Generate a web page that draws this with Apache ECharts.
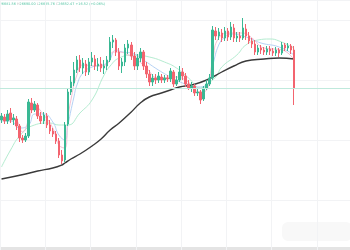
<!DOCTYPE html>
<html><head><meta charset="utf-8">
<script src="https://cdn.jsdelivr.net/npm/echarts@6/dist/echarts.min.js"></script>
<style>html,body{margin:0;padding:0;background:#fff}#c{width:350px;height:250px}</style>
</head><body><div id="c"></div>
<script>
// OHLC candles: [open, close, low, high]
const candles = [
[26500,26520,26485,26535],[26515,26495,26480,26530],[26495,26530,26480,26550],[26535,26500,26485,26560],
[26500,26510,26475,26530],[26505,26470,26450,26520],[26470,26410,26390,26480],[26410,26400,26385,26425],
[26400,26420,26390,26435],[26420,26590,26410,26605],[26585,26550,26535,26610],[26550,26580,26540,26595],
[26575,26520,26505,26585],[26520,26495,26480,26540],[26495,26525,26480,26540],[26520,26475,26460,26535],
[26475,26445,26430,26500],[26445,26430,26415,26460],[26430,26395,26380,26445],[26395,26325,26310,26410],
[26325,26295,26280,26350],[26300,26475,26290,26490],[26480,26640,26470,26660],[26640,26690,26625,26720],
[26685,26750,26670,26790],[26750,26800,26735,26820],[26800,26760,26740,26825],[26760,26785,26730,26810],
[26780,26740,26720,26800],[26740,26790,26725,26810],[26790,26810,26770,26840],[26805,26770,26750,26825],
[26770,26780,26745,26810],[26780,26760,26740,26815],[26760,26770,26730,26800],[26770,26800,26750,26820],
[26800,26890,26790,26915],[26890,26900,26860,26925],[26900,26840,26820,26910],[26840,26770,26750,26860],
[26770,26790,26735,26810],[26790,26860,26770,26880],[26860,26880,26830,26900],[26875,26820,26800,26890],
[26820,26770,26750,26840],[26770,26810,26750,26830],[26810,26840,26790,26860],[26840,26770,26750,26850],
[26770,26730,26710,26790],[26730,26690,26670,26750],[26690,26710,26670,26730],[26710,26700,26680,26730],
[26700,26720,26685,26740],[26715,26700,26685,26730],[26700,26710,26685,26725],[26710,26705,26690,26725],
[26705,26745,26690,26760],[26740,26680,26665,26750],[26680,26700,26670,26720],[26700,26740,26690,26770],
[26740,26720,26700,26760],[26720,26680,26665,26735],[26680,26660,26650,26700],[26660,26670,26640,26690],
[26670,26635,26620,26680],[26635,26640,26620,26660],[26640,26600,26580,26650],[26605,26660,26595,26670],
[26660,26680,26650,26700],[26680,26710,26670,26730],[26710,26950,26700,26970],[26945,26920,26900,26965],
[26920,26940,26900,26960],[26935,26910,26890,26955],[26910,26945,26895,26965],[26945,26915,26895,26960],
[26915,26965,26900,26990],[26960,26910,26890,26980],[26910,26920,26890,26940],[26920,26910,26890,26940],
[26910,26960,26900,27010],[26955,26920,26900,26980],[26920,26895,26880,26940],[26895,26880,26860,26910],
[26880,26840,26825,26900],[26840,26860,26825,26875],[26860,26850,26830,26875],[26850,26840,26825,26865],
[26840,26855,26825,26870],[26855,26845,26825,26870],[26845,26835,26820,26860],[26835,26850,26820,26865],
[26850,26835,26815,26860],[26835,26875,26825,26890],[26875,26860,26845,26885],[26860,26870,26845,26885],
[26870,26850,26830,26880],[26850,26660,26575,26870]
];
// moving averages: [candle index, value]
const maLong = [[0,26205],[8,26230],[12,26245],[17,26260],[20,26275],[21,26285],[23,26305],[26,26330],[30,26370],[33,26405],[36,26450],[39,26485],[43,26540],[46,26585],[49,26615],[53,26635],[56,26650],[59,26665],[63,26675],[68,26700],[73,26740],[77,26770],[81,26795],[87,26805],[92,26810],[97,26805]];
const maMint = [[0,26265],[3,26350],[6,26420],[10,26470],[16,26485],[19,26475],[22,26475],[26,26535],[30,26600],[34,26725],[36,26770],[39,26810],[44,26825],[49,26815],[54,26790],[58,26760],[62,26710],[66,26660],[68,26680],[71,26715],[73,26765],[78,26825],[81,26875],[85,26900],[89,26905],[92,26895],[97,26860]];
const maBlue = [[0,26495],[3,26495],[6,26460],[9,26475],[11,26530],[14,26530],[17,26490],[19,26425],[21,26400],[22,26475],[24,26615],[25,26675],[27,26735],[30,26765],[35,26785],[38,26850],[40,26840],[43,26835],[47,26800],[52,26750],[56,26715],[60,26685],[65,26665],[68,26675],[70,26775],[72,26875],[74,26915],[76,26930],[81,26915],[86,26885],[92,26865],[97,26825]];
const maPink = [[0,26510],[4,26510],[7,26440],[9,26500],[11,26570],[14,26525],[17,26460],[19,26375],[21,26360],[22,26500],[23,26600],[25,26725],[27,26775],[32,26770],[35,26780],[37,26840],[39,26840],[42,26825],[45,26800],[48,26760],[52,26710],[57,26715],[61,26700],[66,26640],[68,26650],[70,26800],[72,26910],[76,26935],[80,26935],[83,26910],[87,26860],[93,26850],[97,26800]];
const lastPrice = 26660;
const slotCount = 116;
const categories = Array.from({length: slotCount}, (_, i) => String(i));
const legendText = ['O','26681.56','H','26690.00','L','26635.76','C','26652.47','+16.52 (+0.06%)'];

const chart = echarts.init(document.getElementById('c'), null, {renderer:'canvas'});
const lineS = (data, color, w) => ({type:'line', data, smooth:true, showSymbol:false, symbol:'none', silent:true,
  lineStyle:{color, width:w}, z:3});
chart.setOption({
  animation:false,
  backgroundColor:'#ffffff',
  grid:{left:0,right:0,top:0,bottom:0},
  xAxis:{type:'category', data:categories, boundaryGap:true,
    axisLine:{show:false}, axisTick:{show:false}, axisLabel:{show:false},
    splitLine:{show:true, interval:14, lineStyle:{color:'#f2f3f5', width:1}}},
  yAxis:{type:'value', min:25850, max:27100, scale:true,
    axisLine:{show:false}, axisTick:{show:false}, axisLabel:{show:false},
    splitLine:{show:true, lineStyle:{color:'#f2f3f5', width:1}}},
  series:[
    lineS(maMint, '#b4ecd0', 1),
    lineS(maBlue, '#b6d2f5', 1),
    lineS(maPink, '#f5bfd2', 1),
    {type:'candlestick', data:candles, barWidth:2, z:4,
      itemStyle:{color:'#3ab894', color0:'#f3646f', borderColor:'#3ab894', borderColor0:'#f3646f', borderWidth:1},
      markLine:{silent:true, symbol:'none', label:{show:false},
        lineStyle:{color:'#bfe9dc', type:'solid', width:1},
        data:[{yAxis:lastPrice}]}},
    lineS(maLong, '#3a3a3a', 1.4)
  ],
  graphic:[
    {type:'rect', left:282, top:222, shape:{width:70, height:19, r:6}, style:{fill:'#f8f8f8'}, silent:true},
    {type:'rect', left:0, top:247, shape:{width:350, height:3}, style:{fill:'#e4e4e4'}, silent:true},
    {type:'text', left:-3, top:3, style:{
      text: legendText.map((t,i)=> i%2===0 && i<8 ? '{k|'+t+'}' : '{v|'+t+' }').join(''),
      rich:{k:{fill:'#bbbbbb', fontSize:3.4, fontFamily:'DejaVu Sans'}, v:{fill:'#57c5a5', fontSize:3.4, fontFamily:'DejaVu Sans'}}
    }}
  ]
});
</script></body></html>
